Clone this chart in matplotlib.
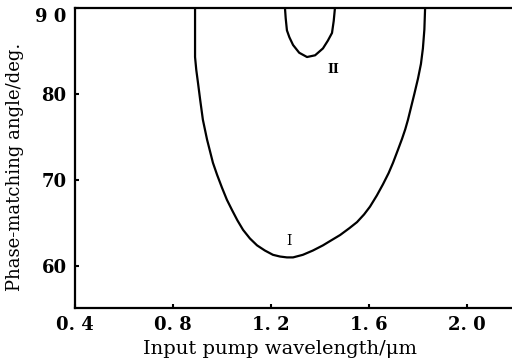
import matplotlib.pyplot as plt

# curve I (large loop)
wl_1 = [0.890, 0.890, 0.895, 0.902, 0.911, 0.922, 0.939, 0.963, 0.980, 1.000,
        1.020, 1.041, 1.063, 1.086, 1.114, 1.143, 1.175, 1.208, 1.237, 1.265,
        1.290, 1.330, 1.371, 1.412, 1.441, 1.482, 1.520, 1.551, 1.580, 1.604,
        1.632, 1.657, 1.680, 1.698, 1.718, 1.735, 1.748, 1.759, 1.772, 1.785,
        1.800, 1.812, 1.820, 1.826, 1.829]
ang_1 = [90.0, 84.3, 82.8, 81.3, 79.3, 77.0, 74.7, 72.0, 70.6, 69.1,
         67.7, 66.5, 65.3, 64.2, 63.2, 62.4, 61.8, 61.3, 61.1, 61.0,
         61.0, 61.3, 61.8, 62.4, 62.9, 63.6, 64.4, 65.1, 66.0, 66.9,
         68.2, 69.5, 70.8, 72.0, 73.5, 74.8, 75.9, 77.0, 78.5, 80.0,
         81.8, 83.5, 85.3, 87.5, 90.0]

# curve II (small loop near 90 deg)
wl_2 = [1.257, 1.260, 1.265, 1.275, 1.290, 1.315, 1.347, 1.380, 1.412, 1.432,
        1.449, 1.456, 1.461]
ang_2 = [90.0, 88.8, 87.4, 86.6, 85.7, 84.8, 84.3, 84.5, 85.3, 86.2,
         87.1, 88.5, 90.0]

x_ticks = [0.4, 0.8, 1.2, 1.6, 2.0]
x_labels = ["0. 4", "0. 8", "1. 2", "1. 6", "2. 0"]
y_ticks = [60, 70, 80, 90]
y_labels = ["60", "70", "80", "9 0"]

plt.rcParams["font.family"] = "DejaVu Serif"

fig = plt.figure(figsize=(5.12, 3.62), dpi=100)
ax = fig.add_axes([75 / 512, 1 - 307.6 / 362, 1 - 75 / 512, (307.6 - 8) / 362])

ax.plot(wl_1, ang_1, color="black", lw=1.6)
ax.plot(wl_2, ang_2, color="black", lw=1.6)

ax.set_xlim(0.4, 0.4 + (512 - 75) / 245)
ax.set_ylim(90 - (307.6 - 8) / 8.6, 90)

ax.set_xticks(x_ticks)
ax.set_xticklabels(x_labels, fontsize=13, fontweight="bold")
ax.set_yticks(y_ticks)
ax.set_yticklabels(y_labels, fontsize=13, fontweight="bold")
ax.tick_params(direction="in", length=3, width=1.5, pad=6)
# top label sits just under the frame in the original
ax.get_yticklabels()[-1].set_verticalalignment("top")

for side in ["left", "bottom", "top"]:
    ax.spines[side].set_linewidth(1.6)
ax.spines["right"].set_visible(False)

ax.text(1.273, 62.9, "I", fontsize=10, ha="center", va="center")
ax.text(1.453, 82.8, "II", fontsize=9, fontweight="bold", ha="center", va="center")

fig.text(280 / 512, 1 - 349 / 362, "Input pump wavelength/\u03bcm", fontsize=14,
         ha="center", va="center")
fig.text(15 / 512, 1 - 167 / 362, "Phase-matching angle/deg.", fontsize=13,
         rotation=90, ha="center", va="center")

fig.savefig("out.png", dpi=100)
